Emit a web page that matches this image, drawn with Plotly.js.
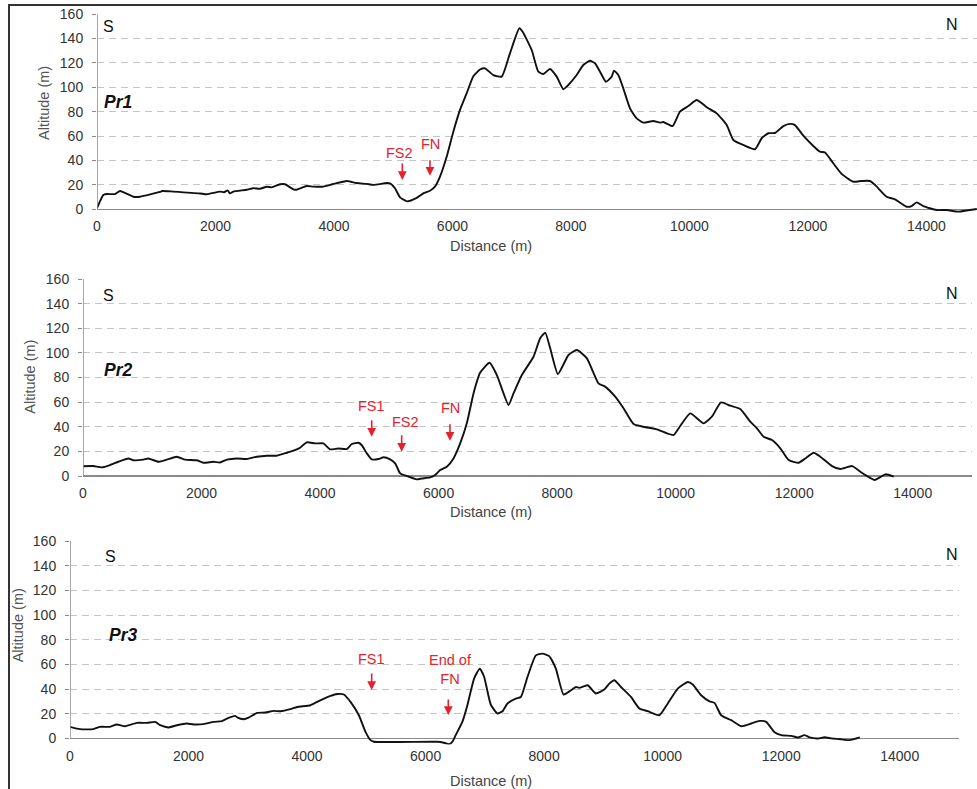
<!DOCTYPE html>
<html>
<head>
<meta charset="utf-8">
<script src="https://cdn.plot.ly/plotly-3.0.1.min.js"></script>
<style>html,body{margin:0;padding:0;background:#fff;}#chart{width:977px;height:789px;}</style>
</head>
<body>
<div id="chart"></div>
<script>
// ---- Data (distance in m, altitude in m) ----
const pr1Distance = [0,107,163,303,388,444,613,726,1063,1100,1288,1739,1851,2076,2144,2205,2245,2301,2526,2639,2751,2863,2948,3089,3173,3314,3370,3539,3652,3820,3989,4214,4270,4383,4552,4664,4890,4946,5030,5115,5238,5396,5508,5621,5705,5790,5902,6015,6128,6240,6353,6465,6550,6690,6831,6971,7129,7185,7338,7450,7535,7647,7760,7872,7956,8097,8209,8322,8406,8491,8592,8688,8727,8800,8885,8997,9110,9222,9391,9504,9560,9717,9841,9982,10123,10208,10292,10461,10630,10742,10911,11108,11220,11332,11445,11585,11698,11782,11923,12092,12204,12289,12429,12570,12766,12907,13048,13133,13329,13470,13667,13751,13836,13948,14173,14342,14539,14680,14852];
const pr1Altitude = [1,11.7,12.5,12.5,15,14,10.3,10.3,14.2,15,14.5,13,12.3,14.5,14,15.5,13,14.5,16,17.3,16.8,18.5,18,20.5,20.5,16.4,16,19.1,18.6,18.6,20.7,23.2,22.8,21.5,20.8,20,21.5,21.3,17.2,9.8,6.5,9.3,13,15.2,18.5,26.7,43,63.6,81.4,95,109,114.5,115.5,110,108.7,127.8,148.3,145.5,130.5,112.7,110.8,115,108.7,98.3,101.8,110,118.2,121.7,119.6,112.7,104.5,108.7,113.6,110,99,82.7,74.5,71,72.3,71,71.5,68.2,80,84.6,89.5,87,83.6,78.6,69,56.8,52.7,49.2,58.2,62.3,62.5,68.2,70,69,60.3,51.9,47.2,46.5,37.7,29,22.6,23.2,23.2,20,10.3,8.2,2.1,2.6,5.7,2.6,-0.6,-0.6,-1.9,-1,0.2];

const pr2Distance = [0,174,315,456,596,765,850,1018,1103,1271,1413,1582,1722,1919,2031,2200,2313,2426,2594,2763,2932,3101,3270,3438,3551,3663,3776,3916,4057,4169,4310,4451,4536,4647,4704,4789,4873,4986,5070,5182,5267,5351,5464,5633,5717,5858,5942,6026,6139,6251,6364,6476,6589,6702,6860,6983,7180,7264,7405,7601,7714,7799,7883,8013,8192,8333,8502,8698,8810,8980,9120,9290,9458,9684,9853,9965,10077,10246,10471,10611,10765,10922,11090,11259,11372,11484,11625,11766,11906,12075,12188,12328,12441,12638,12779,12976,13116,13229,13358,13538,13679];
const pr2Altitude = [8,8.1,7,8.9,11.6,14.3,12.8,13.3,14.3,11.6,13.3,15.7,13.3,12.8,10.8,11.6,11,13.3,14.3,13.8,15.7,16.5,16.5,18.9,20.6,23,27.4,26.5,26.5,21.7,22.4,21.9,26,27,25,18.4,13.5,13.8,15.2,13.5,10.3,2.2,0,-2.7,-2,-1.1,0.8,4.9,7.6,14.3,26.5,42.8,67.1,84,92,82,57.7,67.1,82,96.9,111.8,116.4,103.7,82.8,98.3,102.3,95.6,75.3,72.6,64.4,55,42.2,40,37.9,34.7,33.3,40.6,50.9,42.8,48.2,59.8,57.1,54.4,44.1,38.7,31.9,29.2,22.5,13,10.8,14.3,18.9,15.7,8.1,5.7,8.1,3.5,0,-3.2,1.4,-0.5];

const pr3Distance = [0,169,394,507,676,789,930,1127,1296,1437,1521,1662,1803,1972,2085,2254,2423,2564,2648,2789,2829,2930,3014,3156,3296,3437,3550,3719,3832,4057,4170,4395,4508,4620,4733,4874,4986,5071,5127,6198,6310,6395,6451,6508,6620,6705,6818,6914,6987,7099,7212,7297,7381,7522,7607,7719,7860,7973,8085,8198,8328,8452,8536,8593,8734,8874,9015,9100,9184,9297,9466,9607,9748,9945,10086,10255,10424,10508,10649,10790,10874,10987,11156,11325,11494,11635,11747,11883,12001,12170,12283,12395,12480,12621,12733,12846,13016,13157,13326];
const pr3Altitude = [9.4,7.5,7.5,9.4,9.4,11.3,9.9,12.6,12.6,13.4,10.7,8.9,10.7,12.1,11.3,11.6,13.4,14,16.1,18.3,16.8,15.6,16.8,20.7,21,22.3,22,23.7,25.5,26.9,29.6,34.4,36,35.6,29.6,18.8,5.3,-1.4,-2.7,-2.7,-3.5,-4.6,-2.7,2.7,13.4,26.9,48.5,56.6,50,27.5,20.2,22,28.3,32.3,33.6,49.8,67.3,68.7,66.7,56.6,35.6,39,41.7,41,43.1,36.4,39.6,44.4,47.1,41.7,33.6,24.2,22.1,18.8,28.3,40.4,45.7,43.7,35,30.1,28.8,18.8,14.8,9.9,12.1,14.2,13.4,5.3,2.7,2.1,0.8,2.7,0.8,0,1,0,-0.8,-1.4,0.8];

const xTickValues = [0,2000,4000,6000,8000,10000,12000,14000];
const xTickLabels = ['0','2000','4000','6000','8000','10000','12000','14000'];
const yTickValues = [0,20,40,60,80,100,120,140,160];
const profileNames = ['Pr1','Pr2','Pr3'];

// ---- Layout helpers ----
const W = 977, H = 789;
const px = v => v / W;
const py = v => 1 - v / H;
const FONT = 'Liberation Sans, Arial, sans-serif';
const RED = 'rgb(226,35,45)';

const panels = [
  {xd:[97,977], xr:[0,14855], yd:[14,215.4], S:[108.3,26.7], N:[951.7,25], P:[118.3,101.7], xt:246, yt:[43.5,103.5]},
  {xd:[83,972], xr:[0,15000], yd:[279,482.2], S:[108.3,296], N:[951.7,293.3], P:[118.3,370], xt:511.7, yt:[30,376.7]},
  {xd:[70,959], xr:[0,15000], yd:[541,744.6], S:[110,556.7], N:[951.7,554.3], P:[123.3,635], xt:781, yt:[18.3,625]}
];

const series = [[pr1Distance,pr1Altitude],[pr2Distance,pr2Altitude],[pr3Distance,pr3Altitude]];

const traces = series.map((s,i)=>({
  x: s[0], y: s[1], type:'scatter', mode:'lines',
  xaxis: i===0?'x':'x'+(i+1), yaxis: i===0?'y':'y'+(i+1),
  line:{color:'#111', width:1.9, shape:'spline', smoothing:0.5},
  hoverinfo:'x+y'
}));

const layout = {
  width:W, height:H, margin:{l:0,r:0,t:0,b:0},
  paper_bgcolor:'#fff', plot_bgcolor:'#fff', showlegend:false,
  font:{family:FONT, size:14, color:'#333'},
  annotations:[], shapes:[]
};

function paperText(x, y, text, font, extra){
  return Object.assign({xref:'paper', yref:'paper', x:px(x), y:py(y), text:text, showarrow:false,
    xanchor:'center', yanchor:'middle', font:font}, extra||{});
}

panels.forEach((p,i)=>{
  const xa = i===0?'xaxis':'xaxis'+(i+1);
  const ya = i===0?'yaxis':'yaxis'+(i+1);
  const xr = i===0?'x':'x'+(i+1);
  const yr = i===0?'y':'y'+(i+1);
  layout[xa] = {
    domain:[px(p.xd[0]), px(p.xd[1])], range:p.xr, anchor:yr,
    tickmode:'array', tickvals:xTickValues, ticktext:xTickLabels, showgrid:false, zeroline:false,
    showline:false, ticks:'', tickfont:{family:FONT,size:14,color:'#333'},
    ticklabelstandoff:1, fixedrange:true
  };
  layout[ya] = {
    domain:[py(p.yd[1]), py(p.yd[0])], range:[-5,160], anchor:xr,
    tickmode:'array', tickvals:yTickValues, showgrid:true, gridcolor:'#c4c4c4',
    griddash:'7px,5px', gridwidth:1, zeroline:true, zerolinecolor:'#8a8a8a', zerolinewidth:1.5,
    showline:false, ticks:'outside', ticklen:4, tickcolor:'#8a8a8a',
    tickfont:{family:FONT,size:14,color:'#333'}, ticklabelstandoff:6, fixedrange:true
  };
  layout.shapes.push({type:'line', xref:xr, yref:yr, x0:0, x1:0, y0:0, y1:160, line:{color:'#8a8a8a', width:1.5}});
  layout.annotations.push(
    paperText(p.S[0], p.S[1], 'S', {family:FONT,size:16,color:'#111'}),
    paperText(p.N[0], p.N[1], 'N', {family:FONT,size:16,color:'#111'}),
    paperText(p.P[0], p.P[1], '<b><i>'+profileNames[i]+'</i></b>', {family:FONT,size:17.5,color:'#111'}),
    paperText(490.5, p.xt, 'Distance (m)', {family:FONT,size:14.5,color:'#444'}),
    paperText(p.yt[0], p.yt[1], 'Altitude (m)', {family:FONT,size:14.5,color:'#555'}, {textangle:-90})
  );
});

// Fault markers: [panel index, label, text x, text y, arrow tip x, arrow tip y, arrow length px]
const markers = [
  [0,'FS2',5103,46.4,5154,24.0,18],
  [0,'FN',5633,53.5,5621,27.5,17],
  [1,'FS1',4871,56.9,4871,31.9,18],
  [1,'FS2',5445,44.1,5377,19.7,18],
  [1,'FN',6209,55.0,6192,28.7,18],
  [2,'FS1',5090,64.1,5090,39.2,18],
  [2,'End of<br>FN',6428,56.2,6383,18.9,17]
];
markers.forEach(m=>{
  const xr = m[0]===0?'x':'x'+(m[0]+1);
  const yr = m[0]===0?'y':'y'+(m[0]+1);
  layout.annotations.push(
    {xref:xr, yref:yr, x:m[2], y:m[3], text:m[1], showarrow:false, xanchor:'center', yanchor:'middle', font:{family:FONT,size:14.5,color:RED}},
    {xref:xr, yref:yr, x:m[4], y:m[5], text:'', showarrow:true, ax:0, ay:-m[6], arrowcolor:RED, arrowwidth:1.6, arrowhead:2, arrowsize:1.1, standoff:0}
  );
});

// Outer frame
layout.shapes.push({type:'rect', xref:'paper', yref:'paper', x0:px(9), x1:1.05, y0:-0.05, y1:py(5), line:{color:'#333', width:2}, fillcolor:'rgba(0,0,0,0)', layer:'above'});

Plotly.newPlot('chart', traces, layout, {displayModeBar:false, staticPlot:true});
</script>
</body>
</html>
